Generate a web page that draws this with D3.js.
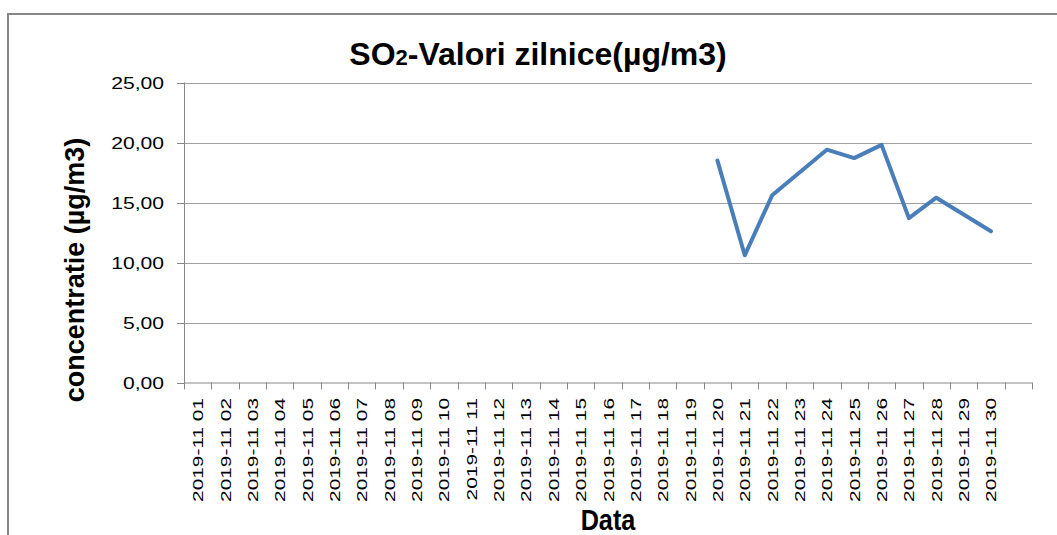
<!DOCTYPE html>
<html>
<head>
<meta charset="utf-8">
<script src="https://cdn.jsdelivr.net/npm/d3@7"></script>
<style>
  html, body { margin: 0; padding: 0; background: #fff; overflow: hidden; }
  text { font-family: "Liberation Sans", Arial, sans-serif; fill: #000; }
</style>
</head>
<body>
<div id="chart"></div>
<script>
// categories (last one is an empty category in the source sheet)
const dates = [
    "2019-11 01", "2019-11 02", "2019-11 03", "2019-11 04", "2019-11 05",
    "2019-11 06", "2019-11 07", "2019-11 08", "2019-11 09", "2019-11 10",
    "2019-11 11", "2019-11 12", "2019-11 13", "2019-11 14", "2019-11 15",
    "2019-11 16", "2019-11 17", "2019-11 18", "2019-11 19", "2019-11 20",
    "2019-11 21", "2019-11 22", "2019-11 23", "2019-11 24", "2019-11 25",
    "2019-11 26", "2019-11 27", "2019-11 28", "2019-11 29", "2019-11 30",
    ""
];

// daily SO2 values, µg/m3 (no measurements before the 20th)
const so2 = [
    null, null, null, null, null, null, null, null, null, null,
    null, null, null, null, null, null, null, null, null,
    18.5, 10.6, 15.6, 17.5, 19.4, 18.7, 19.8, 13.7, 15.4, 14.0, 12.6,
    null
];

const yTicks = [0, 5, 10, 15, 20, 25];

const W = 1057, H = 535;
const plot = { left: 184, right: 1032, top: 82.5, bottom: 382.5 };

const svg = d3.select("#chart")
    .append("svg")
    .attr("width", W)
    .attr("height", H);

// chart area border (runs off the right and bottom edges)
svg.append("rect")
    .attr("x", 8)
    .attr("y", 14)
    .attr("width", 1200)
    .attr("height", 700)
    .attr("fill", "#fff")
    .attr("stroke", "#878787")
    .attr("stroke-width", 2);

const x = d3.scaleBand()
    .domain(dates)
    .range([plot.left, plot.right])
    .padding(0);

const y = d3.scaleLinear()
    .domain([0, 25])
    .range([plot.bottom, plot.top]);

const fmt = v => d3.format(".2f")(v).replace(".", ",");

// gridlines
svg.append("g")
    .selectAll("line")
    .data(yTicks.filter(d => d > 0))
    .enter()
    .append("line")
    .attr("x1", plot.left)
    .attr("x2", plot.right)
    .attr("y1", d => Math.round(y(d)) + 0.5)
    .attr("y2", d => Math.round(y(d)) + 0.5)
    .attr("stroke", "#a0a0a0")
    .attr("stroke-width", 1);

// y axis
const yAxis = svg.append("g");
yAxis.append("line")
    .attr("x1", plot.left + 0.5).attr("x2", plot.left + 0.5)
    .attr("y1", plot.top).attr("y2", plot.bottom + 7)
    .attr("stroke", "#878787");
yAxis.selectAll(".ytick")
    .data(yTicks)
    .enter()
    .append("line")
    .attr("x1", plot.left - 7)
    .attr("x2", plot.left)
    .attr("y1", d => Math.round(y(d)) + 0.5)
    .attr("y2", d => Math.round(y(d)) + 0.5)
    .attr("stroke", "#878787");
yAxis.selectAll("text")
    .data(yTicks)
    .enter()
    .append("text")
    .attr("transform", d => `translate(164,${y(d) + 6}) scale(1.32,1)`)
    .attr("text-anchor", "end")
    .attr("font-size", 16)
    .text(fmt);

// x axis
const xAxis = svg.append("g");
xAxis.append("line")
    .attr("x1", plot.left).attr("x2", plot.right)
    .attr("y1", plot.bottom + 0.5).attr("y2", plot.bottom + 0.5)
    .attr("stroke", "#878787");
xAxis.selectAll(".xtick")
    .data(dates.slice(1).concat(["__end"]))
    .enter()
    .append("line")
    .attr("x1", d => Math.round(d === "__end" ? plot.right : x(d)) + 0.5)
    .attr("x2", d => Math.round(d === "__end" ? plot.right : x(d)) + 0.5)
    .attr("y1", plot.bottom)
    .attr("y2", plot.bottom + 7)
    .attr("stroke", "#878787");
xAxis.selectAll("text")
    .data(dates)
    .enter()
    .append("text")
    .attr("transform", d => `translate(${x(d) + x.bandwidth() / 2 + 5.5},398) rotate(-90) scale(1.39,1)`)
    .attr("text-anchor", "end")
    .attr("font-size", 15)
    .text(d => d);

// series line
const line = d3.line()
    .defined(d => d.v !== null)
    .x(d => x(d.date) + x.bandwidth() / 2)
    .y(d => y(d.v));

svg.append("path")
    .datum(dates.map((date, i) => ({ date, v: so2[i] })))
    .attr("fill", "none")
    .attr("stroke", "#4a7ebb")
    .attr("stroke-width", 4)
    .attr("stroke-linejoin", "round")
    .attr("stroke-linecap", "round")
    .attr("d", line);

// titles
const title = svg.append("text")
    .attr("x", 538)
    .attr("y", 65)
    .attr("text-anchor", "middle")
    .attr("font-size", 32)
    .attr("font-weight", "bold");
title.append("tspan").text("SO");
title.append("tspan").attr("font-size", 22).text("2");
title.append("tspan").text("-Valori zilnice(µg/m3)");

svg.append("text")
    .attr("transform", "translate(84,270) rotate(-90)")
    .attr("text-anchor", "middle")
    .attr("font-size", 27)
    .attr("font-weight", "bold")
    .text("concentratie (µg/m3)");

svg.append("text")
    .attr("transform", "translate(608,530) scale(0.87,1)")
    .attr("text-anchor", "middle")
    .attr("font-size", 29)
    .attr("font-weight", "bold")
    .text("Data");
</script>
</body>
</html>
